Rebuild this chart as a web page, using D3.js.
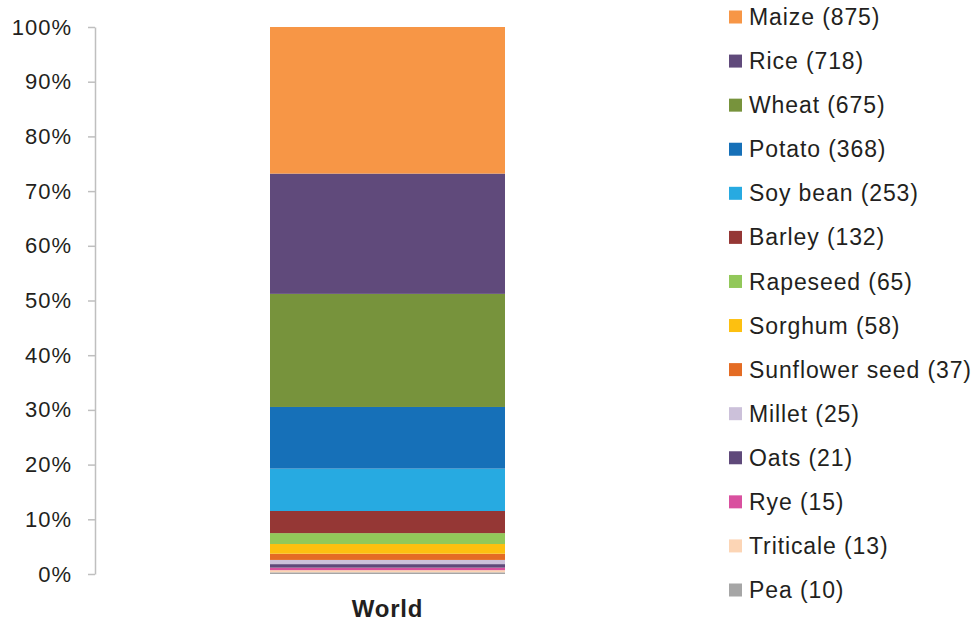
<!DOCTYPE html>
<html>
<head>
<meta charset="utf-8">
<script src="https://cdn.jsdelivr.net/npm/d3@7"></script>
<style>
  html, body { margin: 0; padding: 0; background: #ffffff; }
  svg { display: block; font-family: "Liberation Sans", Arial, sans-serif; }
</style>
</head>
<body>
<svg id="chart" width="980" height="621"></svg>
<script>
// Crop production (million tonnes), listed from top of the stack to bottom
const crops = ["Maize", "Rice", "Wheat", "Potato", "Soy bean", "Barley", "Rapeseed",
  "Sorghum", "Sunflower seed", "Millet", "Oats", "Rye", "Triticale", "Pea"];
const production = [875, 718, 675, 368, 253, 132, 65, 58, 37, 25, 21, 15, 13, 10];
const colors = ["#f79646", "#604a7b", "#77933c", "#1670b8", "#27aae1", "#953735", "#92c85a",
  "#fdc010", "#e46c24", "#ccc1da", "#5f497a", "#d9509f", "#fcd5b5", "#a6a6a6"];
const category = "World";
const yTicks = [0, 10, 20, 30, 40, 50, 60, 70, 80, 90, 100];

const svg = d3.select("#chart");
const textColor = "#231f20";

const x = d3.scaleBand().domain([category]).range([270, 505]).padding(0);
const y = d3.scaleLinear().domain([0, 100]).range([574, 27]);

// Stack from the bottom: last listed crop sits at 0%
const total = d3.sum(production);
const row = { cat: category };
crops.forEach((c, i) => { row[c] = production[i] / total * 100; });
const stack = d3.stack().keys(crops.slice().reverse());
const layers = stack([row]);
const colorOf = d3.scaleOrdinal().domain(crops).range(colors);

svg.append("g").selectAll("rect")
  .data(layers)
  .join("rect")
  .attr("x", x(category))
  .attr("width", x.bandwidth())
  .attr("y", d => y(d[0][1]))
  .attr("height", d => y(d[0][0]) - y(d[0][1]))
  .attr("fill", d => colorOf(d.key));

// Y axis
const yAxis = d3.axisLeft(y)
  .tickValues(yTicks)
  .tickFormat(d => d + "%")
  .tickSize(7)
  .tickSizeOuter(0)
  .tickPadding(16);
const gy = svg.append("g").attr("transform", "translate(95,0)").call(yAxis);
gy.select(".domain").attr("stroke", "#bfbfbf").attr("stroke-width", 1.5);
gy.selectAll(".tick line").attr("stroke", "#bfbfbf").attr("stroke-width", 1.5);
gy.selectAll(".tick text")
  .attr("fill", textColor)
  .style("font-size", "22px")
  .style("letter-spacing", "1px")
  .style("font-family", "'Liberation Sans', Arial, sans-serif");

// Category label
svg.append("text")
  .attr("x", x(category) + x.bandwidth() / 2)
  .attr("y", 617)
  .attr("text-anchor", "middle")
  .attr("fill", textColor)
  .style("font-size", "24px")
  .style("letter-spacing", "0.8px")
  .style("font-weight", "bold")
  .text(category);

// Legend
const legend = svg.append("g");
const ly = d3.scalePoint().domain(crops).range([17, 590]);
const items = legend.selectAll("g")
  .data(crops)
  .join("g")
  .attr("transform", d => `translate(729,${ly(d)})`);
items.append("rect")
  .attr("x", 0).attr("y", -6.5)
  .attr("width", 13).attr("height", 13)
  .attr("fill", d => colorOf(d));
items.append("text")
  .attr("x", 20).attr("y", 0)
  .attr("dy", "0.35em")
  .attr("fill", textColor)
  .style("font-size", "23px")
  .style("letter-spacing", "0.9px")
  .text((d, i) => `${d} (${production[i]})`);
</script>
</body>
</html>
